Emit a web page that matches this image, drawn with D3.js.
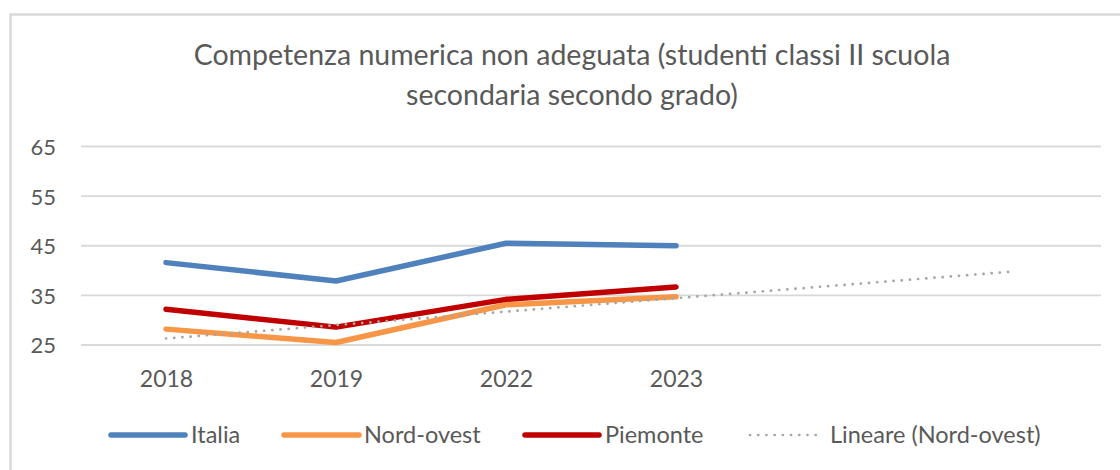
<!DOCTYPE html>
<html>
<head>
<meta charset="utf-8">
<script src="https://cdn.jsdelivr.net/npm/d3@7"></script>
<style>
  html, body { margin: 0; padding: 0; background: #fff; }
  svg { display: block; }
  text { font-family: Lato, "Open Sans", "DejaVu Sans", sans-serif; fill: #595959; }
</style>
</head>
<body>
<svg id="chart" width="1120" height="470"></svg>
<script>
// ---- data ----
const categories = ["2018", "2019", "2022", "2023"];
const forecastPeriods = 2;
const italia = [41.6, 37.9, 45.5, 45.0];
const nordOvest = [28.2, 25.5, 33.1, 34.7];
const piemonte = [32.2, 28.6, 34.2, 36.7];
const yTicks = [25, 35, 45, 55, 65];
const titleLines = ["Competenza numerica non adeguata (studenti classi II scuola", "secondaria secondo grado)"];
const seriesNames = ["Italia", "Nord-ovest", "Piemonte"];
const trendName = "Lineare (Nord-ovest)";

const colors = { "Italia": "#4f81bd", "Nord-ovest": "#f79646", "Piemonte": "#c00000", trend: "#a6a6a6" };

const svg = d3.select("#chart");
const W = 1120, H = 470;

// border (chart area frame)
svg.append("rect").attr("x", 10.5).attr("y", 14.5).attr("width", W + 20).attr("height", H + 20)
  .attr("fill", "#fff").attr("stroke", "#d9d9d9").attr("stroke-width", 2.5);

// scales
const nCat = categories.length + forecastPeriods;
const x = d3.scaleBand().domain(d3.range(nCat)).range([81, 1101]).padding(0);
const cx = i => x(i) + x.bandwidth() / 2;
const y = d3.scaleLinear().domain([25, 65]).range([345, 146.5]);

// gridlines
svg.append("g").selectAll("line").data(yTicks).join("line")
  .attr("x1", 81).attr("x2", 1101)
  .attr("y1", d => y(d)).attr("y2", d => y(d))
  .attr("stroke", "#d9d9d9").attr("stroke-width", 1.8);

// y axis labels
const yAxis = d3.axisLeft(y).tickValues(yTicks).tickSize(0).tickPadding(0);
const gy = svg.append("g").attr("transform", "translate(56,0)").call(yAxis);
gy.select(".domain").remove();
gy.selectAll("text").attr("font-size", 22).style("fill", "#595959")
  .attr("font-family", "Lato, 'Open Sans', sans-serif").attr("dy", "0.36em");

// x axis labels
const xAxis = d3.axisBottom(d3.scalePoint().domain(categories).range([cx(0), cx(categories.length - 1)]))
  .tickSize(0).tickPadding(0);
const gx = svg.append("g").attr("transform", "translate(0,371)").call(xAxis);
gx.select(".domain").remove();
gx.selectAll("text").attr("font-size", 23).style("fill", "#595959")
  .attr("font-family", "Lato, 'Open Sans', sans-serif").attr("dy", "0.71em");

// trend line (linear regression of Nord-ovest, extended forward)
const xs = nordOvest.map((_, i) => i + 1);
const mx = d3.mean(xs), my = d3.mean(nordOvest);
const slope = d3.sum(xs.map((xi, i) => (xi - mx) * (nordOvest[i] - my))) / d3.sum(xs.map(xi => (xi - mx) ** 2));
const intercept = my - slope * mx;
const trendPts = [[0, intercept + slope * 1], [nCat - 1, intercept + slope * nCat]];

const line = d3.line().x(d => cx(d[0])).y(d => y(d[1]));
const seriesData = [
  { name: "Italia", values: italia },
  { name: "Nord-ovest", values: nordOvest },
  { name: "Piemonte", values: piemonte }
];

seriesData.forEach(s => {
  svg.append("path").datum(s.values.map((v, i) => [i, v]))
    .attr("d", line).attr("fill", "none")
    .attr("stroke", colors[s.name]).attr("stroke-width", 5.5)
    .attr("stroke-linecap", "round").attr("stroke-linejoin", "round");
});
svg.append("path").datum(trendPts).attr("d", line).attr("fill", "none")
  .attr("stroke", colors.trend).attr("stroke-width", 2.7)
  .attr("stroke-dasharray", "0.1 8.1").attr("stroke-linecap", "round");

// title
const title = svg.append("text").attr("text-anchor", "middle").attr("font-size", 28.5);
titleLines.forEach((t, i) => {
  title.append("tspan").attr("x", 572).attr("y", 65 + i * 40).text(t);
});

// legend
const legendItems = [
  { name: "Italia", x1: 111, x2: 185, tx: 191, dotted: false },
  { name: "Nord-ovest", x1: 284, x2: 359, tx: 364, dotted: false },
  { name: "Piemonte", x1: 525, x2: 599, tx: 605, dotted: false },
  { name: trendName, x1: 750, x2: 818, tx: 830, dotted: true }
];
const ly = 435;
const lg = svg.append("g");
legendItems.forEach(it => {
  const l = lg.append("line").attr("x1", it.x1).attr("x2", it.x2).attr("y1", ly).attr("y2", ly)
    .attr("stroke-linecap", "round");
  if (it.dotted) {
    l.attr("stroke", colors.trend).attr("stroke-width", 2.7).attr("stroke-dasharray", "0.1 8.1");
  } else {
    l.attr("stroke", colors[it.name]).attr("stroke-width", 5.5);
  }
  lg.append("text").attr("x", it.tx).attr("y", ly).attr("dy", "0.35em")
    .attr("font-size", 23.5).text(it.name);
});
</script>
</body>
</html>
